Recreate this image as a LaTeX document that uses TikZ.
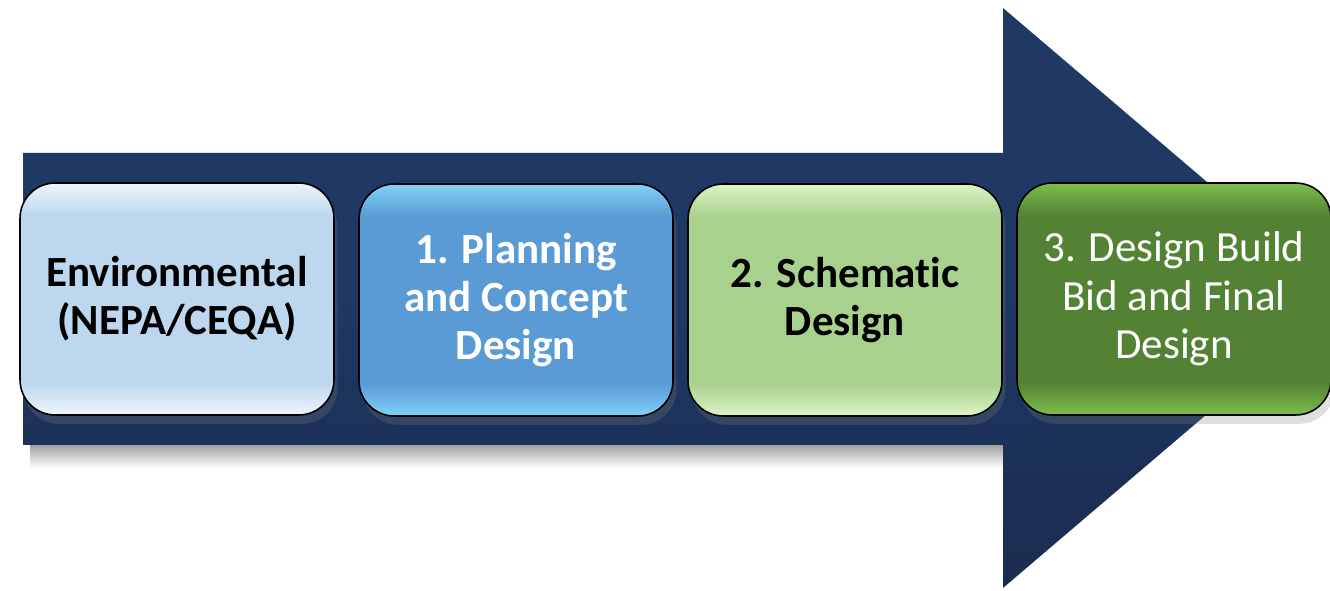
\documentclass[tikz,border=0pt]{standalone}
\usepackage{fontspec}
\setmainfont{Carlito}[Ligatures=NoCommon]
\usetikzlibrary{positioning,shadows}

\definecolor{arrowblue}{HTML}{1F3864}
\definecolor{arrowdark}{HTML}{1A2B4E}
\definecolor{envtop}{HTML}{EEF5FC}
\definecolor{envmid}{HTML}{BDD7EE}
\definecolor{plantop}{HTML}{80D2F8}
\definecolor{planmid}{HTML}{5B9BD5}
\definecolor{schemtop}{HTML}{DDF3C6}
\definecolor{schemmid}{HTML}{A9D18E}
\definecolor{finaltop}{HTML}{7DBE4C}
\definecolor{finalmid}{HTML}{548235}

\pgfdeclareverticalshading{envshade}{100bp}{color(0bp)=(envtop); color(25bp)=(envtop); color(32bp)=(envmid); color(68bp)=(envmid); color(75bp)=(envtop); color(100bp)=(envtop)}
\pgfdeclareverticalshading{planshade}{100bp}{color(0bp)=(plantop); color(25bp)=(plantop); color(32bp)=(planmid); color(68bp)=(planmid); color(75bp)=(plantop); color(100bp)=(plantop)}
\pgfdeclareverticalshading{schemshade}{100bp}{color(0bp)=(schemtop); color(25bp)=(schemtop); color(32bp)=(schemmid); color(68bp)=(schemmid); color(75bp)=(schemtop); color(100bp)=(schemtop)}
\pgfdeclareverticalshading{finalshade}{100bp}{color(0bp)=(finaltop); color(25bp)=(finaltop); color(32bp)=(finalmid); color(68bp)=(finalmid); color(75bp)=(finaltop); color(100bp)=(finaltop)}

\begin{document}
\begin{tikzpicture}[x=0.02cm,y=-0.02cm]
\tikzstyle{every node}+=[font=\fontsize{24.5}{27.5}\selectfont]
\tikzstyle{stage}=[draw=black,line width=0.9pt,rounded corners=20pt,minimum width=6.28cm,minimum height=4.64cm,align=center,inner sep=0pt,drop shadow={shadow xshift=2pt,shadow yshift=-5pt,opacity=0.25}]
\useasboundingbox (0,0) rectangle (1330,591);
\fill [white] (0,0) rectangle (1330,591);
\shade [top color=black!45,bottom color=white] (30,440) rectangle (1003,468);
\shade [top color=arrowblue,bottom color=arrowdark,middle color=arrowblue] (23,153) -- (1003,153) -- (1003,8) -- (1343,298) -- (1003,588) -- (1003,445) -- (23,445) -- cycle;
\node [stage,shading=envshade,font=\fontsize{24.5}{27.5}\selectfont\bfseries] (env) at (177,299) {Environmental\\(NEPA/CEQA)};
\node [stage,shading=planshade,text=white,font=\fontsize{24.5}{27.5}\selectfont\bfseries] (plan) at (516,300) {1. Planning\\and Concept\\Design};
\node [stage,shading=schemshade,font=\fontsize{24.5}{27.5}\selectfont\bfseries] (schem) at (845,300) {2. Schematic\\Design};
\node [stage,shading=finalshade,text=white] (final) at (1174,299) {3. Design Build\\Bid and Final\\Design};
\end{tikzpicture}
\end{document}
